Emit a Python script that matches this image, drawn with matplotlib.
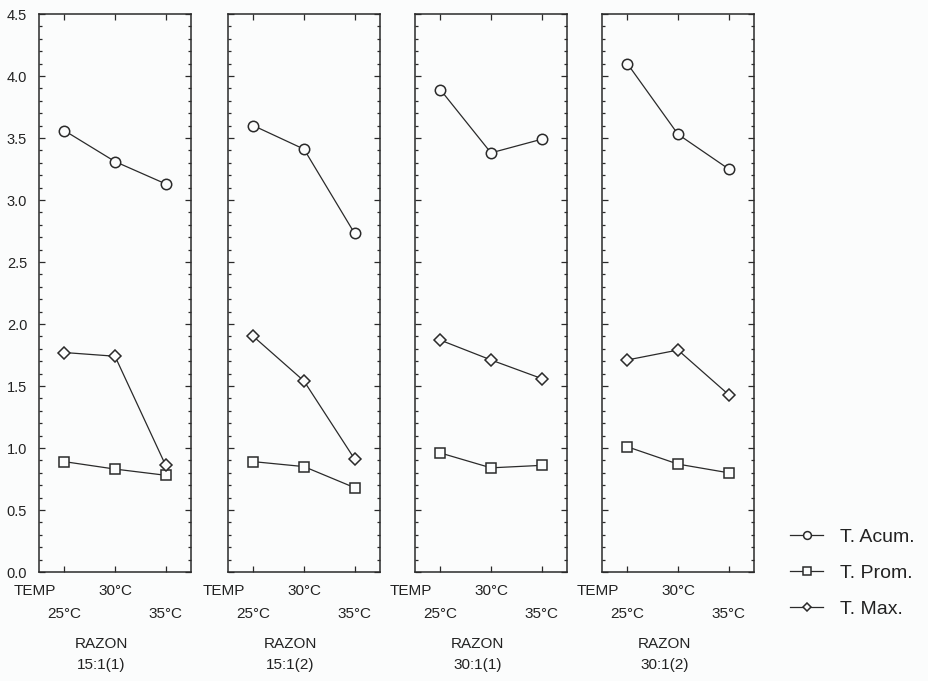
import matplotlib
matplotlib.use("Agg")
import matplotlib.pyplot as plt
from matplotlib.ticker import MultipleLocator, FixedLocator, NullFormatter
from matplotlib.transforms import blended_transform_factory

plt.rcParams['font.family'] = ['Liberation Sans', 'DejaVu Sans']

temps = ["25°C", "30°C", "35°C"]
razones = ["15:1(1)", "15:1(2)", "30:1(1)", "30:1(2)"]
series_names = ["T. Acum.", "T. Prom.", "T. Max."]

t_acum = [
    [3.56, 3.31, 3.13],
    [3.60, 3.41, 2.73],
    [3.89, 3.38, 3.49],
    [4.10, 3.53, 3.25],
]
t_prom = [
    [0.89, 0.83, 0.78],
    [0.89, 0.85, 0.68],
    [0.96, 0.84, 0.86],
    [1.01, 0.87, 0.80],
]
t_max = [
    [1.77, 1.74, 0.86],
    [1.90, 1.54, 0.91],
    [1.87, 1.71, 1.56],
    [1.71, 1.79, 1.43],
]

markers = ["o", "s", "D"]
msizes = [7.5, 7.5, 6.0]
bg = "#fbfcfc"
ink = "#2a2a2a"
txt = "#222222"

fig = plt.figure(figsize=(9.29, 6.81), dpi=100, facecolor=bg)
lefts_px = [39, 228, 415, 602]
W, H = 929, 681
ax_w = 152 / W
bottom = 1 - 572 / H
height = (572 - 14) / H

handles = []
for i, (lp, raz) in enumerate(zip(lefts_px, razones)):
    ax = fig.add_axes([lp / W, bottom, ax_w, height], facecolor=bg)
    x = list(range(len(temps)))
    for k, (data, mk, ms) in enumerate(zip([t_acum, t_prom, t_max], markers, msizes)):
        ln, = ax.plot(x, data[i], color=ink, lw=0.9, marker=mk, ms=ms,
                      mfc=bg, mec=ink, mew=1.1, label=series_names[k])
        if i == 0:
            handles.append(ln)
    ax.set_xlim(-0.5, 2.5)
    ax.set_ylim(0, 4.5)
    ax.yaxis.set_major_locator(MultipleLocator(0.5))
    ax.yaxis.set_minor_locator(MultipleLocator(0.1))
    ax.xaxis.set_major_locator(FixedLocator(x))
    ax.xaxis.set_major_formatter(NullFormatter())
    ax.tick_params(axis='both', which='both', direction='in', top=True, right=True,
                   color=ink, width=0.9)
    ax.tick_params(axis='both', which='major', length=4)
    ax.tick_params(axis='both', which='minor', length=2)
    if i == 0:
        ax.yaxis.set_major_formatter(plt.FuncFormatter(lambda v, p: f"{v:.1f}"))
        ax.tick_params(axis='y', labelsize=10.5, pad=8.5, labelcolor=txt)
    else:
        ax.yaxis.set_major_formatter(NullFormatter())
    for s in ax.spines.values():
        s.set_color(ink)
        s.set_linewidth(1.1)

    tr = blended_transform_factory(ax.transData, fig.transFigure)
    tra = blended_transform_factory(ax.transAxes, fig.transFigure)
    fs = 11
    ax.text(-0.03, 1 - 591 / H, "TEMP", transform=tra, ha='center', va='center', fontsize=fs, color=txt)
    ax.text(x[1], 1 - 591 / H, temps[1], transform=tr, ha='center', va='center', fontsize=fs, color=txt)
    ax.text(x[0], 1 - 614 / H, temps[0], transform=tr, ha='center', va='center', fontsize=fs, color=txt)
    ax.text(x[2], 1 - 614 / H, temps[2], transform=tr, ha='center', va='center', fontsize=fs, color=txt)
    ax.text(0.41, 1 - 644 / H, "RAZON", transform=tra, ha='center', va='center', fontsize=fs, color=txt)
    ax.text(0.41, 1 - 665 / H, raz, transform=tra, ha='center', va='center', fontsize=fs, color=txt)

leg = fig.legend(handles=handles, loc='center left', bbox_to_anchor=(790 / W, 1 - 573 / H),
                 frameon=False, fontsize=14, handlelength=1.7, labelspacing=0.95,
                 markerscale=0.75, handletextpad=0.85, borderpad=0, borderaxespad=0)
for t in leg.get_texts():
    t.set_color(txt)

fig.savefig("out.png", dpi=100, facecolor=bg)
